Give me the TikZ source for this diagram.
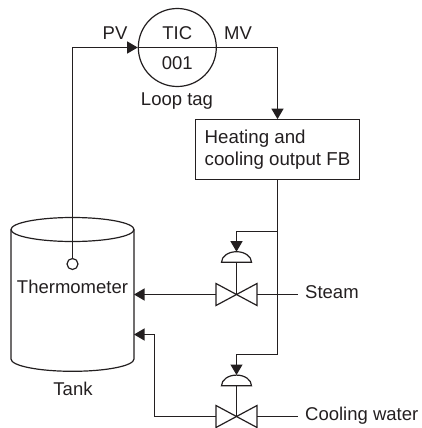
\documentclass[tikz,border=0pt]{standalone}
\usepackage{fontspec}
\setmainfont{Liberation Sans}
\usetikzlibrary{arrows.meta}
\definecolor{ink}{HTML}{231F20}

\begin{document}
\begin{tikzpicture}[
  x=1pt, y=-1pt,
  font=\fontsize{18.5}{22}\selectfont,
  text=ink,
  >={Triangle[length=10.5pt,width=12pt]},
  pipe/.style={draw=ink, line width=1.2pt, line join=miter},
  sig/.style={pipe, ->},
  lbl/.style={inner sep=0pt},
  tagcirc/.style={circle, draw=ink, line width=1.2pt, minimum size=78pt, inner sep=0pt},
  fbbox/.style={rectangle, draw=ink, line width=1.2pt, align=left, font=\fontsize{18.7}{22}\selectfont,
                minimum width=164pt, minimum height=59.5pt, inner sep=0pt},
  bulb/.style={circle, draw=ink, line width=1.2pt, minimum size=11pt, inner sep=0pt},
]
\useasboundingbox (0,0) rectangle (421,428);

\def\vx{236.5}  \def\tapx{277.5}  \def\wallx{134}

% loop tag
\node[tagcirc] (tic) at (177.3,47.5) {};
\node[lbl] (tictxt) at (177.3,33) {TIC};
\node[lbl] (numtxt) at (177.3,63) {001};
\node[lbl] (tagtxt) at (177,101) {Loop tag};
\node[lbl] (pv) at (115,33) {PV};
\node[lbl] (mv) at (238,33) {MV};
\draw[pipe] (tic.west) -- (tic.east);

% output block
\node[fbbox] (fb) at (\tapx,149.5) {Heating and\\cooling output FB};
\draw[sig] (tic.east) -| (fb.north);

% tank
\draw[pipe] (72.5,229.5) ellipse [x radius=61.5, y radius=12];
\draw[pipe] (11,229.5) -- (11,359) arc[start angle=180, end angle=360, x radius=61.5, y radius=-12.3] -- (\wallx,229.5);
\node[bulb] (temp) at (72.5,264) {};
\node[lbl] (temptxt) at (72.5,287) {Thermometer};
\node[lbl] (tanktxt) at (73,389) {Tank};
\draw[sig] (temp.north) |- (tic.west);

% valves
\foreach \n/\vy/\ay/\by/\ty in {s/294.5/251.7/262.3/231.5, c/416.5/375/385.7/354.5} {
  \coordinate (\n act) at (\vx,\ay);
  \coordinate (\n base) at (\vx,\by);
  \coordinate (\n val) at (\vx,\vy);
  \coordinate (\n tap) at (\tapx,\ty);
  \coordinate (\n west) at (216,\vy);
  \coordinate (\n east) at (257,\vy);
  \coordinate (\n end) at (298,\vy);
  \draw[pipe] (216,\vy-11) -- (257,\vy+11) -- (257,\vy-11) -- (216,\vy+11) -- cycle;
  \draw[pipe] (\vx-15,\by) arc[start angle=180, end angle=0, x radius=15, y radius=-10.6] -- cycle;
  \draw[pipe] (\n base) -- (\n val);
  \draw[pipe] (\n east) -- (\n end);
  \draw[sig] (\n tap) -| (\n act);
}
\draw[pipe] (fb.south) -- (ctap);

% lines into the tank
\coordinate (sin) at (\wallx,294.5);
\coordinate (cin) at (\wallx,334.5);
\coordinate (cbend) at (154.5,334.5);
\draw[sig] (swest) -- (sin);
\draw[sig] (cwest) -| (cbend) -- (cin);

\node[lbl, anchor=west] (steamtxt) at (305,292) {Steam};
\node[lbl, anchor=west] (cooltxt) at (305,416) {Cooling water};

\end{tikzpicture}
\end{document}
